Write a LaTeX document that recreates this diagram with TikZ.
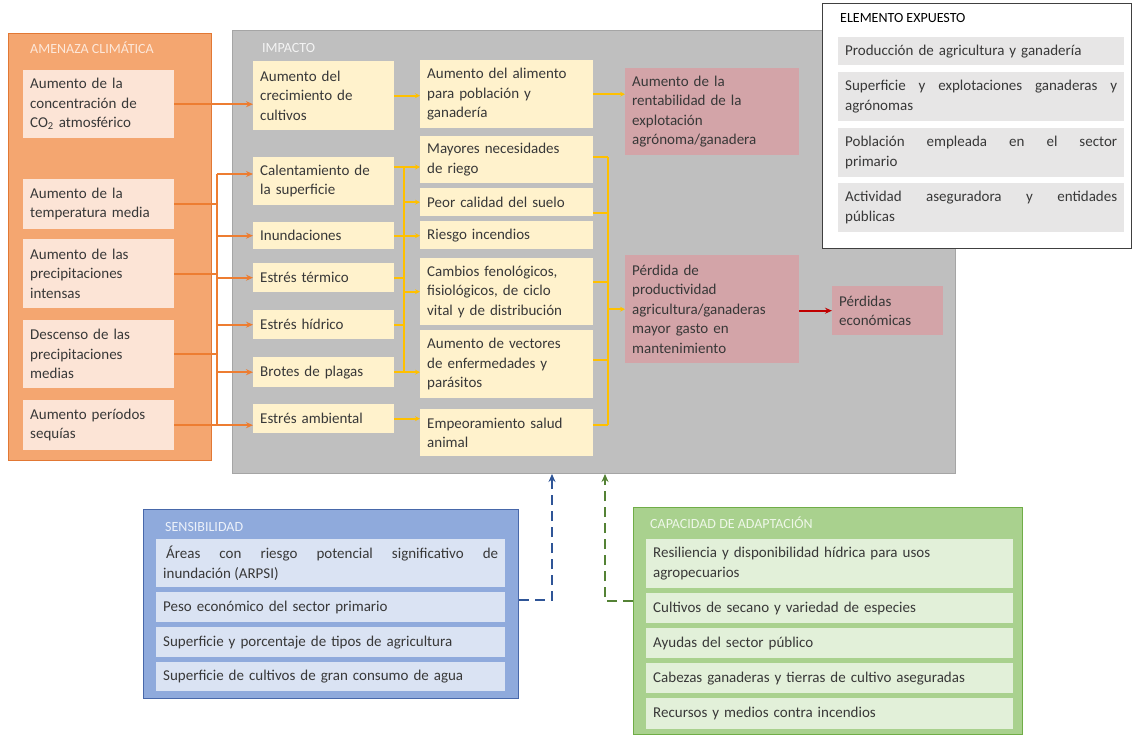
\documentclass[tikz,border=0pt]{standalone}
\usepackage{fontspec}
\setmainfont{Carlito}
\usetikzlibrary{arrows.meta,calc}
\definecolor{orP}{RGB}{244,166,112}
\definecolor{orB}{RGB}{226,120,52}
\definecolor{orI}{RGB}{252,228,214}
\definecolor{orL}{RGB}{237,125,49}
\definecolor{orT}{RGB}{253,232,218}
\definecolor{grP}{RGB}{191,191,191}
\definecolor{grB}{RGB}{165,165,165}
\definecolor{grT}{RGB}{244,244,244}
\definecolor{yeI}{RGB}{255,242,204}
\definecolor{yeL}{RGB}{255,192,0}
\definecolor{roI}{RGB}{211,164,168}
\definecolor{reL}{RGB}{192,0,0}
\definecolor{elI}{RGB}{231,230,230}
\definecolor{elB}{RGB}{64,64,64}
\definecolor{buP}{RGB}{143,170,220}
\definecolor{buB}{RGB}{72,104,170}
\definecolor{buI}{RGB}{218,227,243}
\definecolor{buL}{RGB}{47,85,151}
\definecolor{buT}{RGB}{236,241,250}
\definecolor{gnP}{RGB}{169,209,142}
\definecolor{gnB}{RGB}{112,173,71}
\definecolor{gnI}{RGB}{226,240,217}
\definecolor{gnL}{RGB}{84,130,53}
\definecolor{gnT}{RGB}{238,247,232}
\definecolor{txt}{RGB}{56,56,56}
\newcommand\mainf{\fontsize{15}{19.5}\selectfont}
\newcommand\ttlf{\fontsize{14}{16}\selectfont}
\tikzset{
  wh/.code 2 args={\pgfmathsetmacro\bxw{#1-14}\edef\bxtmp{\noexpand\pgfkeysalso{minimum width=#1pt,minimum height=#2pt,text width=\bxw pt}}\bxtmp},
  sz/.style 2 args={minimum width=#1pt,minimum height=#2pt},
  bx/.style={anchor=north west, inner xsep=7pt, inner ysep=0pt, align=left, font=\mainf, text=txt},
  jbx/.style={bx, align=justify},
  panel/.style={anchor=north west, inner sep=0pt, line width=1pt},
  ttl/.style={anchor=west, inner sep=0pt, font=\ttlf},
  oline/.style={orL, line width=2pt},
  oarr/.style={oline, -{Stealth[length=7pt,width=6pt]}},
  yline/.style={yeL, line width=2pt},
  yarr/.style={yline, -{Stealth[length=5pt,width=5pt]}},
  rarr/.style={reL, line width=1.8pt, -{Stealth[length=7pt,width=6pt]}},
  bdash/.style={buL, line width=2.4pt, dash pattern=on 10pt off 6pt, -{Stealth[length=8pt,width=7pt]}},
  gdash/.style={gnL, line width=2.4pt, dash pattern=on 10pt off 6pt, -{Stealth[length=8pt,width=7pt]}},
}
\begin{document}
\begin{tikzpicture}[x=1pt,y=-1pt]
\useasboundingbox[fill=white] (0,0) rectangle (1135,735);

% ---------- panels ----------
\node[panel, sz={203}{427}, fill=orP, draw=orB] (amen) at (8,33) {};
\node[ttl, text=orT] (amenT) at (30,48) {AMENAZA CLIMÁTICA};
\node[panel, sz={723}{443}, fill=grP, draw=grB] (imp) at (232,30) {};
\node[ttl, text=grT] (impT) at (262,48) {IMPACTO};

% ---------- amenaza boxes ----------
\node[bx, wh={151}{68}, fill=orI] (a1) at (23,70) {Aumento de la\\concentración de\\CO\textsubscript{2} atmosférico};
\node[bx, wh={151}{50}, fill=orI] (a2) at (23,179) {Aumento de la\\temperatura media};
\node[bx, wh={151}{69}, fill=orI] (a3) at (23,239) {Aumento de las\\precipitaciones\\intensas};
\node[bx, wh={151}{68}, fill=orI] (a4) at (23,320) {Descenso de las\\precipitaciones\\medias};
\node[bx, wh={151}{50}, fill=orI] (a5) at (23,400) {Aumento períodos\\sequías};

% ---------- impacto column 1 ----------
\node[bx, wh={141}{69}, fill=yeI] (i1) at (253,61) {Aumento del\\crecimiento de\\cultivos};
\node[bx, wh={141}{48}, fill=yeI] (i2) at (253,157) {Calentamiento de\\la superficie};
\node[bx, wh={141}{27}, fill=yeI] (i3) at (253,222) {Inundaciones};
\node[bx, wh={141}{29}, fill=yeI] (i4) at (253,263) {Estrés térmico};
\node[bx, wh={141}{29}, fill=yeI] (i5) at (253,310) {Estrés hídrico};
\node[bx, wh={141}{30}, fill=yeI] (i6) at (253,357) {Brotes de plagas};
\node[bx, wh={141}{29}, fill=yeI] (i7) at (253,404) {Estrés ambiental};

% ---------- impacto column 2 ----------
\node[bx, wh={173}{68}, fill=yeI] (c1) at (420,60) {Aumento del alimento\\para población y\\ganadería};
\node[bx, wh={173}{47}, fill=yeI] (c2) at (420,136) {Mayores necesidades\\de riego};
\node[bx, wh={173}{28}, fill=yeI] (c3) at (420,188) {Peor calidad del suelo};
\node[bx, wh={173}{28}, fill=yeI] (c4) at (420,221) {Riesgo incendios};
\node[bx, wh={173}{67}, fill=yeI] (c5) at (420,258) {Cambios fenológicos,\\fisiológicos, de ciclo\\vital y de distribución};
\node[bx, wh={173}{68}, fill=yeI] (c6) at (420,330) {Aumento de vectores\\de enfermedades y\\parásitos};
\node[bx, wh={173}{47}, fill=yeI] (c7) at (420,409) {Empeoramiento salud\\animal};

% ---------- impacto column 3 ----------
\node[bx, wh={174}{87}, fill=roI] (r1) at (625,68) {Aumento de la\\rentabilidad de la\\explotación\\agrónoma/ganadera};
\node[bx, wh={174}{108}, fill=roI] (p1) at (625,255) {Pérdida de\\productividad\\agricultura/ganaderas\\mayor gasto en\\mantenimiento};
\node[bx, wh={111}{49}, fill=roI] (e1) at (832,286) {Pérdidas\\económicas};

% ---------- elemento expuesto ----------
\node[panel, sz={309}{245}, fill=white, draw=elB, line width=1.2pt] (elem) at (822,3) {};
\node[ttl, text=black] (elemT) at (840,18) {ELEMENTO EXPUESTO};
\node[bx, wh={286}{28}, fill=elI] (x1) at (838,37) {Producción de agricultura y ganadería};
\node[jbx, wh={286}{49}, fill=elI] (x2) at (838,72) {Superficie y explotaciones ganaderas y\linebreak agrónomas};
\node[jbx, wh={286}{49}, fill=elI] (x3) at (838,128) {Población empleada en el sector\linebreak primario};
\node[jbx, wh={286}{49}, fill=elI] (x4) at (838,183) {Actividad aseguradora y entidades\linebreak públicas};

% ---------- sensibilidad ----------
\node[panel, sz={375}{189}, fill=buP, draw=buB] (sens) at (143,509) {};
\node[ttl, text=buT] (sensT) at (165,527) {SENSIBILIDAD};
\node[jbx, wh={349}{48}, fill=buI] (s1) at (156,539) {\hspace*{3pt}Áreas con riesgo potencial significativo de\linebreak inundación (ARPSI)};
\node[bx, wh={349}{30}, fill=buI] (s2) at (156,592) {Peso económico del sector primario};
\node[bx, wh={349}{30}, fill=buI] (s3) at (156,627) {Superficie y porcentaje de tipos de agricultura};
\node[bx, wh={349}{29}, fill=buI] (s4) at (156,662) {Superficie de cultivos de gran consumo de agua};

% ---------- capacidad ----------
\node[panel, sz={389}{227}, fill=gnP, draw=gnB] (cap) at (633,507) {};
\node[ttl, text=gnT] (capT) at (650,523) {CAPACIDAD DE ADAPTACIÓN};
\node[bx, wh={367}{49}, fill=gnI] (g1) at (646,539) {Resiliencia y disponibilidad hídrica para usos\\agropecuarios};
\node[bx, wh={367}{30}, fill=gnI] (g2) at (646,593) {Cultivos de secano y variedad de especies};
\node[bx, wh={367}{30}, fill=gnI] (g3) at (646,628) {Ayudas del sector público};
\node[bx, wh={367}{30}, fill=gnI] (g4) at (646,663) {Cabezas ganaderas y tierras de cultivo aseguradas};
\node[bx, wh={367}{31}, fill=gnI] (g5) at (646,698) {Recursos y medios contra incendios};

% ---------- orange connectors ----------
\coordinate (ob) at (217,174);
\draw[oarr] (a1.east) -- (a1.east -| i1.west);
\draw[oline] (ob) -- (ob |- a5.east);
\draw[oline] (a2.east) -- (a2.east -| ob);
\draw[oline] (a3.east) -- (a3.east -| ob);
\draw[oline] (a4.east) -- (a4.east -| ob);
\draw[oarr] (a5.east) -- (a5.east -| i7.west);
\draw[oarr] (ob) -- (ob -| i2.west);
\draw[oarr] (ob |- i3.west) -- (i3.west);
\draw[oarr] (ob |- i4.west) -- (i4.west);
\draw[oarr] (ob |- i5.west) -- (i5.west);
\draw[oarr] (ob |- i6.west) -- (i6.west);

% ---------- yellow connectors ----------
\coordinate (yb) at (404,167);
\draw[yarr] (i1.east) -- (i1.east -| c1.west);
\draw[yarr] (c1.east) -- (c1.east -| r1.west);
\draw[yarr] (i2.east |- yb) -- (c2.west |- yb);
\draw[yline] (yb) -- (yb |- i6.east);
\draw[yarr] (yb |- c3.west) -- (c3.west);
\draw[yarr] (i3.east) -- (i3.east -| c4.west);
\draw[yarr] (yb |- c5.west) -- (c5.west);
\draw[yline] (i4.east) -- (i4.east -| yb);
\draw[yline] (i5.east) -- (i5.east -| yb);
\draw[yarr] (i6.east) -- (i6.east -| c6.west);
\draw[yarr] (i7.east) -- (i7.east -| c7.west);

\coordinate (k1) at (608,157);
\coordinate (k2) at (608,213);
\coordinate (k3) at (608,282);
\coordinate (k4) at (608,360);
\coordinate (k5) at (608,425);
\draw[yline] (k1) -- (k5);
\draw[yline] (c2.east |- k1) -- (k1);
\draw[yline] (c3.east |- k2) -- (k2);
\draw[yline] (c5.east |- k3) -- (k3);
\draw[yline] (c6.east |- k4) -- (k4);
\draw[yline] (c7.east |- k5) -- (k5);
\draw[yarr] (k1 |- p1.west) -- (p1.west);

% ---------- red ----------
\draw[rarr] (p1.east |- e1.west) -- (e1.west);

% ---------- dashed ----------
\coordinate (bj) at (552,600);
\draw[bdash] (sens.east |- bj) -- (bj) -- (bj |- imp.south);
\coordinate (gj) at (605,601);
\draw[gdash] (cap.west |- gj) -- (gj) -- (gj |- imp.south);
\end{tikzpicture}
\end{document}
